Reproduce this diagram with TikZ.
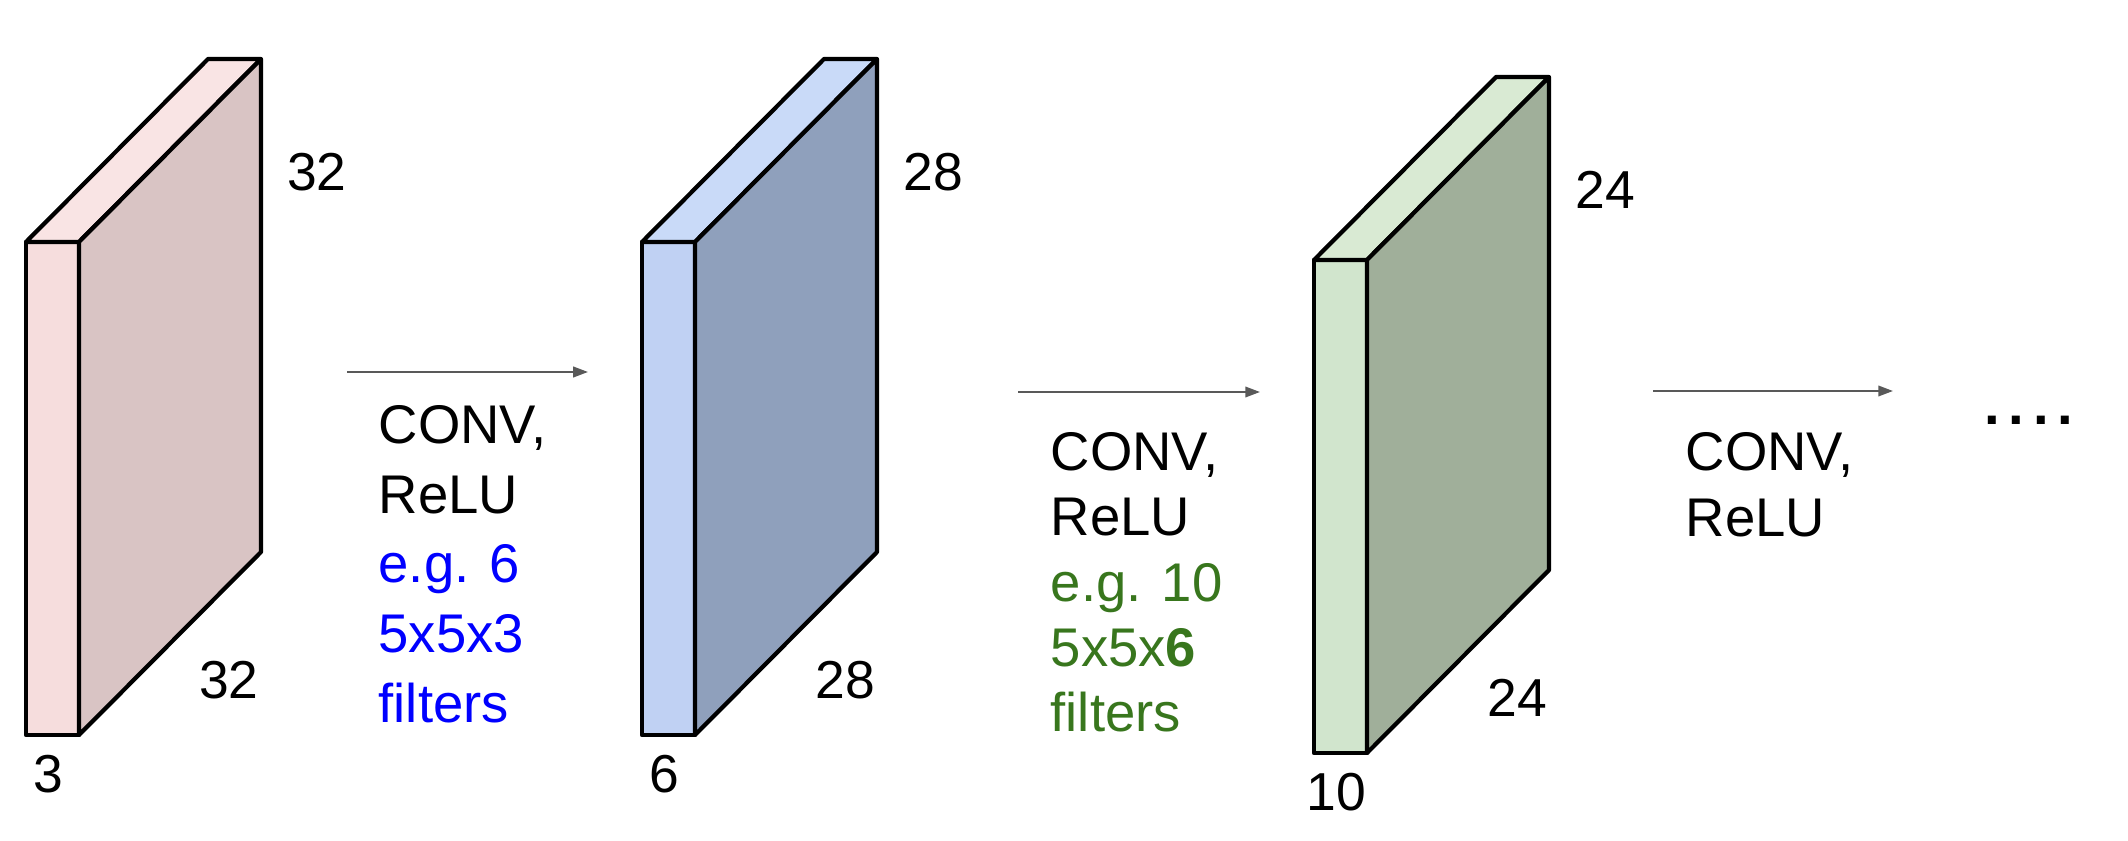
\documentclass[tikz,border=0pt]{standalone}
\usepackage{fontspec}
\setmainfont{Liberation Sans}
\usetikzlibrary{arrows.meta}
\definecolor{pinkF}{HTML}{F6DDDD}
\definecolor{pinkT}{HTML}{F9E4E4}
\definecolor{pinkS}{HTML}{D9C4C4}
\definecolor{blueF}{HTML}{C0D1F3}
\definecolor{blueT}{HTML}{C9DAF8}
\definecolor{blueS}{HTML}{8FA0BC}
\definecolor{greenF}{HTML}{D1E5CD}
\definecolor{greenT}{HTML}{D9EAD3}
\definecolor{greenS}{HTML}{A0AF9A}
\definecolor{filtblue}{HTML}{0000FF}
\definecolor{filtgreen}{HTML}{38761D}

\begin{document}
\begin{tikzpicture}[
    face/.style={draw=black, line width=1.2pt, line join=round},
    dimlab/.style={font=\fontsize{15.2}{17}\selectfont, inner sep=0pt},
    oplab/.style={font=\fontsize{15.5}{19.8}\selectfont, align=left,
                  anchor=base west, inner sep=0pt},
    flow/.style={draw=black!65, line width=0.6pt,
                 -{Triangle[length=4.2pt,width=3pt]}},
]
\useasboundingbox (0,0) rectangle (21.28,8.4);

% ---- activation volumes ----
\foreach \n/\px/\py/\col/\hgt/\wid/\dep in
    {1/0.26/1.05/pink/32/32/3, 2/6.42/1.05/blue/28/28/6, 3/13.14/0.87/green/24/24/10} {
  \begin{scope}[shift={(\px,\py)}]
    \filldraw[face, fill=\col F] (0,0) rectangle (0.53,4.93);
    \filldraw[face, fill=\col T] (0,4.93) -- (1.82,6.76) -- (2.35,6.76) -- (0.53,4.93) -- cycle;
    \filldraw[face, fill=\col S] (0.53,0) -- (0.53,4.93) -- (2.35,6.76) -- (2.35,1.83) -- cycle;
    \node[dimlab] (h\n) at (2.91,5.63) {\hgt};
    \node[dimlab] (w\n) at (2.03,0.55) {\wid};
    \node[dimlab] (d\n) at (0.22,-0.39) {\dep};
  \end{scope}
}

% ---- conv steps ----
\coordinate (a1s) at (3.47,4.68);  \coordinate (a1e) at (5.88,4.68);
\coordinate (a2s) at (10.18,4.48); \coordinate (a2e) at (12.60,4.48);
\coordinate (a3s) at (16.53,4.49); \coordinate (a3e) at (18.93,4.49);
\foreach \i in {1,2,3} { \draw[flow] (a\i s) -- (a\i e); }

% base anchor sits on the last line
\node[oplab] (op1) at (3.78,1.18)
    {CONV,\\ReLU\\\textcolor{filtblue}{e.g. 6}\\\textcolor{filtblue}{5x5x3}\\\textcolor{filtblue}{filters}};
\node[oplab, font=\fontsize{15.5}{18.6}\selectfont] (op2) at (10.50,1.08)
    {CONV,\\ReLU\\\textcolor{filtgreen}{e.g. 10}\\\textcolor{filtgreen}{5x5x\textbf{6}}\\\textcolor{filtgreen}{filters}};
\node[oplab, font=\fontsize{15.5}{19}\selectfont] (op3) at (16.85,3.03) {CONV,\\ReLU};

\node[font=\fontsize{16}{18}\selectfont\bfseries, inner sep=0pt] (more) at (20.29,4.20)
    {.\hspace{0.088cm}.\hspace{0.088cm}.\hspace{0.088cm}.};
\end{tikzpicture}
\end{document}
